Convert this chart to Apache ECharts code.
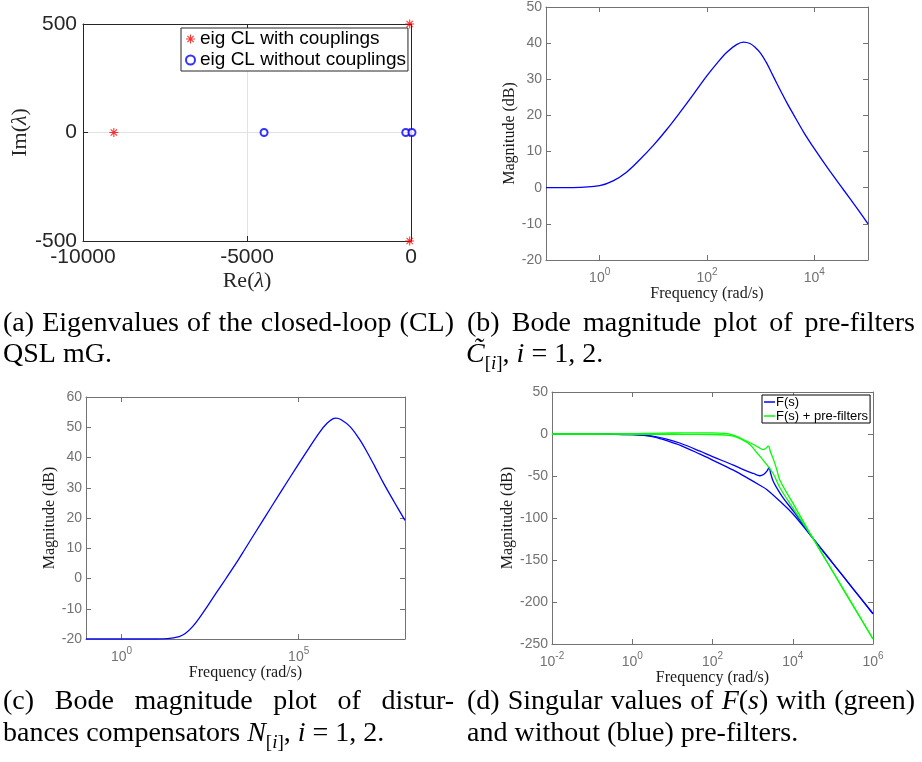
<!DOCTYPE html>
<html><head><meta charset="utf-8">
<script src="https://cdn.jsdelivr.net/npm/echarts@6/dist/echarts.min.js"></script>
<style>html,body{margin:0;padding:0;background:#fff}#c{width:922px;height:762px}</style>
</head><body><div id="c"></div>
<script>
// ---------------- data ----------------
// (a) closed-loop eigenvalues [Re, Im]
const eigWithCouplings = [[-9060, 0], [-50, 0], [-40, 500], [-40, -500]];
const eigWithoutCouplings = [[-4480, 0], [-160, 0], [30, 0]];
const aXTicks = [-10000, -5000, 0];
const aYTicks = [-500, 0, 500];

// (b) pre-filter magnitude: log10(frequency rad/s) and dB
const bLogW = [-1, -0.5, 0, 0.25, 0.5, 0.75, 1, 1.25, 1.5, 1.75, 2, 2.2, 2.37, 2.55, 2.68, 2.8, 2.9, 3.0, 3.1, 3.2, 3.3, 3.4, 3.5, 3.61, 3.8, 4, 4.25, 4.55, 4.8, 5];
const bDb   = [0, 0.05, 0.6, 1.9, 4.3, 7.8, 11.7, 16.1, 20.9, 25.9, 31.0, 34.7, 37.5, 39.6, 40.3, 39.9, 38.8, 37.2, 34.8, 31.9, 28.9, 26.0, 23.2, 20.3, 15.4, 10.8, 5.4, -0.7, -5.8, -10];
const bXTickExp = [0, 2, 4];

// (c) disturbance compensator magnitude
const cLogW = [-1, 0, 1, 1.3, 1.63, 1.8, 2, 2.2, 2.4, 2.65, 2.95, 3.25, 3.5, 4, 4.5, 5, 5.3, 5.6, 5.8, 5.95, 6.05, 6.2, 6.45, 6.7, 6.92, 7.15, 7.39, 7.7, 8];
const cDb   = [-20, -20, -20, -19.9, -19.2, -18.2, -16, -13, -9.6, -5.2, 0, 5.3, 10, 19.4, 28.7, 37.9, 43.3, 48.5, 51.3, 52.7, 53, 52.5, 50.2, 46.3, 42, 37, 31.6, 25.2, 19.2];
const cXTickExp = [0, 5];

// (d) singular values of F(s)
const fBlue1LogW = [-2, -1, 0, 0.5, 0.86, 1.2, 1.69, 2, 2.52, 2.8, 3.02, 3.18, 3.28, 3.36, 3.41, 3.45, 3.51, 3.6, 3.76, 4.05, 4.5, 5, 5.5, 6];
const fBlue1Db   = [0, 0, -0.6, -2.5, -6, -11, -20.5, -27, -37, -43, -47, -49.7, -48, -44, -40, -47, -56, -64, -76, -94, -124, -154, -184, -214];
const fBlue2LogW = [-2, -1, 0, 0.5, 0.86, 1.2, 1.69, 2, 2.52, 2.93, 3.18, 3.35, 3.68, 4, 4.5, 5, 5.5, 6];
const fBlue2Db   = [0, 0, -0.8, -3, -8, -13.5, -24, -31, -43, -54, -61, -66, -80, -95, -124, -154, -184, -214];
const fGreen1LogW = [-2, -1, 0, 0.5, 1, 1.5, 2, 2.3, 2.5, 2.68, 2.85, 3.02, 3.15, 3.26, 3.33, 3.39, 3.45, 3.51, 3.6, 3.68, 4, 4.5, 5, 5.5, 6];
const fGreen1Db   = [0, 0, 0.3, 0.8, 1.2, 1.4, 1.4, 0.8, -1, -4.5, -8.5, -12.5, -16, -18.5, -17, -14.5, -22, -29, -42, -55, -82, -124, -164, -204, -244];
const fGreen2LogW = [-2, -1, 0, 1, 1.5, 2, 2.3, 2.52, 2.7, 2.93, 3.1, 3.26, 3.51, 3.68, 4, 4.5, 5, 5.5, 6];
const fGreen2Db   = [0, 0, -0.3, -0.3, -0.4, -0.6, -1.2, -2.5, -6, -12.5, -22, -31, -47, -64, -88, -124, -164, -204, -244];
const dXTickExp = [-2, 0, 2, 4, 6];

// ---------------- styles ----------------
const SANS = '"Liberation Sans", Arial, Helvetica, sans-serif';
const SERIF = '"Liberation Serif", "Times New Roman", serif';
const AX = '#727272';
const DARK = '#262626';
const STAR = 'path://M-0.6,-5 L0.6,-5 L0.6,5 L-0.6,5 Z M-5,-0.6 L5,-0.6 L5,0.6 L-5,0.6 Z M-3.08,-3.92 L3.92,3.08 L3.08,3.92 L-3.92,-3.08 Z M-3.08,3.92 L-3.92,3.08 L3.08,-3.92 L3.92,-3.08 Z';

const zip = (xs, ys) => xs.map((x, i) => [x, ys[i]]);

const supRich = {
  b: {fontSize: 14, color: AX, fontFamily: SANS, padding: [4, 0, 0, 0], verticalAlign: 'bottom'},
  s: {fontSize: 10, color: AX, fontFamily: SANS, verticalAlign: 'top', lineHeight: 10}
};
const supFmt = v => '{b|10}{s|' + v + '}';
const plainFmt = v => String(v);

function axisPair(kind, gi, c) {
  const tickExtra = c.custom ? {customValues: c.custom} : {};
  const base = {type: 'value', gridIndex: gi, min: c.min, max: c.max};
  if (c.interval) base.interval = c.interval;
  const label = Object.assign({show: true, margin: c.margin, color: c.color, fontSize: c.fontSize,
    fontFamily: SANS, showMinLabel: true, showMaxLabel: true, formatter: c.fmt || plainFmt}, tickExtra);
  if (c.rich) label.rich = c.rich;
  const main = Object.assign({}, base, {
    position: kind === 'x' ? 'bottom' : 'left',
    axisLine: {show: true, onZero: false, lineStyle: {color: c.lineColor, width: 1}},
    axisTick: Object.assign({show: true, inside: true, length: 5, lineStyle: {color: c.lineColor}}, tickExtra),
    axisLabel: label,
    splitLine: {show: !!c.split, lineStyle: {color: '#e2e2e2', width: 1}},
    name: c.name, nameLocation: 'middle', nameGap: c.nameGap, nameTextStyle: c.nameStyle
  });
  const second = Object.assign({}, base, {
    position: kind === 'x' ? 'top' : 'right',
    axisLine: {show: true, onZero: false, lineStyle: {color: c.lineColor, width: 1}},
    axisTick: Object.assign({show: true, inside: true, length: 5, lineStyle: {color: c.lineColor}}, tickExtra),
    axisLabel: {show: false},
    splitLine: {show: false}
  });
  return [main, second];
}

const magName = {fontFamily: SERIF, fontSize: 16, color: '#1a1a1a'};
const lamRich = {
  n: {fontFamily: SERIF, fontSize: 22, color: DARK},
  l: {fontFamily: SERIF, fontSize: 22, color: DARK, fontStyle: 'italic'}
};

const grids = [
  {left: 83, top: 24, width: 328, height: 217},
  {left: 546, top: 7, width: 322, height: 253},
  {left: 86, top: 397, width: 319, height: 242},
  {left: 552, top: 392, width: 321, height: 252}
];

const xAxes = [].concat(
  axisPair('x', 0, {min: aXTicks[0], max: aXTicks[2], interval: aXTicks[1] - aXTicks[0], margin: 6, color: DARK, fontSize: 21,
    lineColor: DARK, split: true, name: '{n|Re(}{l|λ}{n|)}', nameGap: 29, nameStyle: {rich: lamRich}}),
  axisPair('x', 1, {min: -1, max: 5, custom: bXTickExp, fmt: supFmt, rich: supRich, margin: 7, color: AX, fontSize: 14,
    lineColor: AX, name: 'Frequency (rad/s)', nameGap: 24, nameStyle: magName}),
  axisPair('x', 2, {min: -1, max: 8, custom: cXTickExp, fmt: supFmt, rich: supRich, margin: 7, color: AX, fontSize: 14,
    lineColor: AX, name: 'Frequency (rad/s)', nameGap: 23, nameStyle: magName}),
  axisPair('x', 3, {min: -2, max: 6, custom: dXTickExp, fmt: supFmt, rich: supRich, margin: 7, color: AX, fontSize: 14,
    lineColor: AX, name: 'Frequency (rad/s)', nameGap: 24, nameStyle: magName})
);
const yAxes = [].concat(
  axisPair('y', 0, {min: aYTicks[0], max: aYTicks[2], interval: aYTicks[1] - aYTicks[0], margin: 6, color: DARK, fontSize: 21,
    lineColor: DARK, split: true, name: '{n|Im(}{l|λ}{n|)}', nameGap: 45, nameStyle: {rich: lamRich}}),
  axisPair('y', 1, {min: -20, max: 50, interval: 10, margin: 4, color: AX, fontSize: 14,
    lineColor: AX, name: 'Magnitude (dB)', nameGap: 26, nameStyle: magName}),
  axisPair('y', 2, {min: -20, max: 60, interval: 10, margin: 4, color: AX, fontSize: 14,
    lineColor: AX, name: 'Magnitude (dB)', nameGap: 28, nameStyle: magName}),
  axisPair('y', 3, {min: -250, max: 50, interval: 50, margin: 4, color: AX, fontSize: 14,
    lineColor: AX, name: 'Magnitude (dB)', nameGap: 34, nameStyle: magName})
);

function lineSeries(name, gi, xs, ys, color) {
  return {type: 'line', name: name, xAxisIndex: 2 * gi, yAxisIndex: 2 * gi, data: zip(xs, ys),
    symbol: 'none', showSymbol: false, smooth: 0.35,
    lineStyle: {color: color, width: 1.3}, itemStyle: {color: color}, silent: true};
}

// ---------------- captions ----------------
const CAP = 28;
const mctx = document.createElement('canvas').getContext('2d');
function fontOf(p) { return (p.it ? 'italic ' : '') + (p.sub ? 19 : CAP) + 'px ' + SERIF; }
function widthOf(p) { mctx.font = fontOf(p); return mctx.measureText(p.t).width; }
function P(t, it, sub) { return {t: t, it: !!it, sub: !!sub}; }
function W(s) { return [P(s)]; }
function captionLine(words, x0, baseline, x1) {
  const ws = words.map(w => w.reduce((s, p) => s + widthOf(p), 0));
  let gap = widthOf(P(' '));
  if (x1 !== undefined && words.length > 1) {
    gap = (x1 - x0 - ws.reduce((a, b) => a + b, 0)) / (words.length - 1);
  }
  const els = [];
  let x = x0;
  words.forEach((w, i) => {
    w.forEach(p => {
      const size = p.sub ? 19 : CAP;
      const yb = baseline + (p.sub ? 6 : 0);
      els.push({type: 'text', x: x, y: yb - 0.3375 * size, silent: true,
        style: {text: p.t, font: fontOf(p), fill: '#000', textAlign: 'left', textVerticalAlign: 'middle'}});
      x += widthOf(p);
    });
    x += gap;
  });
  return els;
}
const sub_i = [P('[', 0, 1), P('i', 1, 1), P(']', 0, 1)];
const graphics = [].concat(
  captionLine(['(a)', 'Eigenvalues', 'of', 'the', 'closed-loop', '(CL)'].map(W), 3, 333, 454),
  captionLine(['QSL', 'mG.'].map(W), 3, 364),
  captionLine(['(b)', 'Bode', 'magnitude', 'plot', 'of', 'pre-filters'].map(W), 467, 333, 915),
  captionLine([[P('C\u0303', 1)].concat(sub_i, [P(',')]), [P('i', 1)], W('='), W('1,'), W('2.')], 466, 364),
  captionLine(['(c)', 'Bode', 'magnitude', 'plot', 'of', 'distur-'].map(W), 3, 711, 454),
  captionLine([W('bances'), W('compensators'), [P('N', 1)].concat(sub_i, [P(',')]), [P('i', 1)], W('='), W('1,'), W('2.')], 3, 743),
  captionLine([W('(d)'), W('Singular'), W('values'), W('of'), [P('F', 1), P('('), P('s', 1), P(')')], W('with'), W('(green)')], 467, 711, 915),
  captionLine(['and', 'without', '(blue)', 'pre-filters.'].map(W), 467, 743)
);

const option = {
  animation: false,
  backgroundColor: '#fff',
  grid: grids,
  xAxis: xAxes,
  yAxis: yAxes,
  legend: [
    {data: ['eig CL with couplings', 'eig CL without couplings'], orient: 'vertical', left: 181, top: 28,
      padding: [1, 2, 1, 4], itemGap: 1, itemWidth: 9, itemHeight: 9, backgroundColor: '#fff',
      borderColor: DARK, borderWidth: 1, borderRadius: 0, selectedMode: false,
      textStyle: {fontSize: 19, fontFamily: SANS, color: '#000', lineHeight: 20}},
    {data: ['F(s)', 'F(s) + pre-filters'], orient: 'vertical', left: 762, top: 395, icon: 'rect',
      padding: [0, 2, 0, 2], itemGap: 0, itemWidth: 11, itemHeight: 1.5, backgroundColor: '#fff',
      borderColor: '#000', borderWidth: 1, borderRadius: 0, selectedMode: false,
      textStyle: {fontSize: 13, fontFamily: SANS, color: '#000', lineHeight: 14, padding: [0, 0, 0, -4]}}
  ],
  series: [
    {type: 'scatter', name: 'eig CL with couplings', xAxisIndex: 0, yAxisIndex: 0, data: eigWithCouplings,
      symbol: STAR, symbolSize: 9, itemStyle: {color: '#ff0000'}, clip: false, silent: true},
    {type: 'scatter', name: 'eig CL without couplings', xAxisIndex: 0, yAxisIndex: 0, data: eigWithoutCouplings,
      symbol: 'emptyCircle', symbolSize: 7, itemStyle: {color: '#0000ff', borderColor: '#0000ff', borderWidth: 1.4},
      clip: false, silent: true},
    lineSeries('pre-filter', 1, bLogW, bDb, '#0000ff'),
    lineSeries('compensator', 2, cLogW, cDb, '#0000ff'),
    lineSeries('F(s)', 3, fBlue1LogW, fBlue1Db, '#0000ff'),
    lineSeries('F(s)', 3, fBlue2LogW, fBlue2Db, '#0000ff'),
    lineSeries('F(s) + pre-filters', 3, fGreen1LogW, fGreen1Db, '#00ff00'),
    lineSeries('F(s) + pre-filters', 3, fGreen2LogW, fGreen2Db, '#00ff00')
  ],
  graphic: graphics
};

const chart = echarts.init(document.getElementById('c'), null, {renderer: 'canvas', width: 922, height: 762});
chart.setOption(option);
</script>
</body></html>
